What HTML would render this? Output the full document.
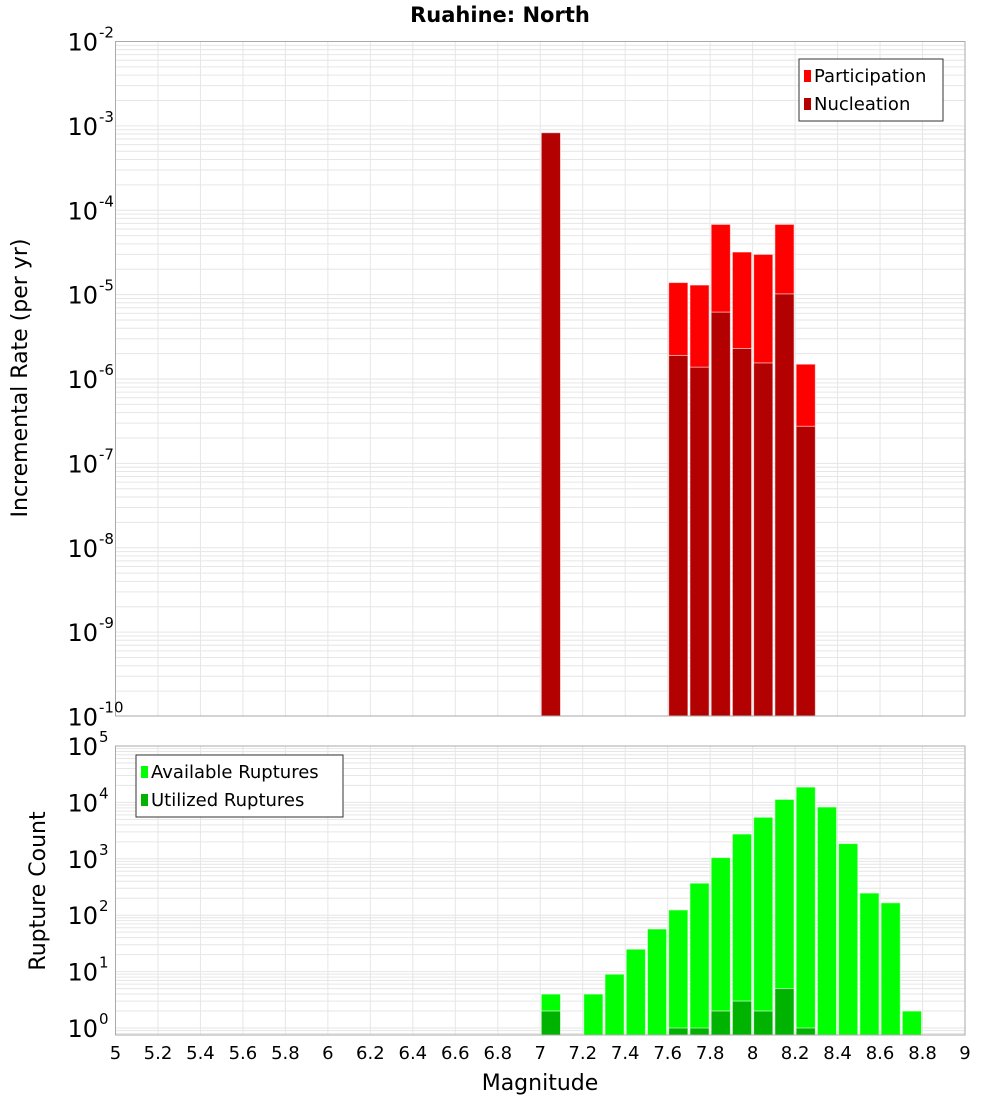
<!DOCTYPE html>
<html><head><meta charset="utf-8"><style>
body{margin:0;background:#fff;}
svg{display:block;font-family:"DejaVu Sans","Liberation Sans",sans-serif;}
</style></head><body>
<svg id="chart" width="1000" height="1100" xmlns="http://www.w3.org/2000/svg">
<text x="500" y="22" text-anchor="middle" font-size="21" font-weight="bold">Ruahine: North</text>
<text transform="translate(27,378) rotate(-90)" text-anchor="middle" font-size="22">Incremental Rate (per yr)</text>
<text transform="translate(45,891) rotate(-90)" text-anchor="middle" font-size="22">Rupture Count</text>
<text x="540" y="1090" text-anchor="middle" font-size="22">Magnitude</text>
</svg>
<script>
const mags = [7.0,7.6,7.7,7.8,7.9,8.0,8.1,8.2];
const participation = [8.3e-4,1.39e-5,1.3e-5,6.8e-5,3.2e-5,3.0e-5,6.8e-5,1.5e-6];
const nucleation = [8.3e-4,1.9e-6,1.38e-6,6.2e-6,2.3e-6,1.55e-6,1.02e-5,2.75e-7];
const ruptMags = [7.0,7.2,7.3,7.4,7.5,7.6,7.7,7.8,7.9,8.0,8.1,8.2,8.3,8.4,8.5,8.6,8.7];
const available = [4,4,9,25,57,124,370,1050,2750,5450,11300,18700,8300,1860,247,166,2];
const utilMags = [7.0,7.6,7.7,7.8,7.9,8.0,8.1,8.2];
const utilized = [2,1,1,2,3,2,5,1];
const xTicks = [5,5.2,5.4,5.6,5.8,6,6.2,6.4,6.6,6.8,7,7.2,7.4,7.6,7.8,8,8.2,8.4,8.6,8.8,9];
const topExps = [-2,-3,-4,-5,-6,-7,-8,-9,-10];
const botExps = [5,4,3,2,1,0];

const svg = document.getElementById('chart');
const NS = 'http://www.w3.org/2000/svg';
const L = 115.5, R = 965;
const xs = m => L + (m - 5) / 4 * (R - L);
const topY = v => 41.5 + (-2 - Math.log10(v)) * 84.375;
const botY = v => 1028 - Math.log10(v) * 56.4;
function mk(tag, attrs, parent){const e=document.createElementNS(NS,tag);for(const k in attrs)e.setAttribute(k,attrs[k]);(parent||svg).appendChild(e);return e;}

function panel(name, y0, y1, yfn, expLo, expHi){
  const g = mk('g',{});
  
  
  mk('rect',{x:L,y:y0,width:R-L,height:y1-y0,fill:'#fff'},g);
  for(let e=expLo;e<expHi;e++){for(let k=1;k<10;k++){const y=yfn(k*Math.pow(10,e));if(y<y0||y>y1)continue;
    mk('line',{x1:L,x2:R,y1:y,y2:y,stroke:'#e6e6e6','stroke-width':1},g);}}
  for(const t of xTicks){const x=xs(t);mk('line',{x1:x,x2:x,y1:y0,y2:y1,stroke:'#e6e6e6','stroke-width':1},g);}
  return g;
}
const gt = panel('top-plot',41.5,716,topY,-10,-2);
const gb = panel('bottom-plot',746,1035,botY,-1,5);

function bar(g, m, v, yfn, base, color, nm){
  const x = xs(m), w = xs(m+0.1)-x, y = yfn(v);
  const r = mk('rect',{x:x+1,y:y,width:w-2,height:base-y,fill:color,stroke:'rgba(255,255,255,0.6)','stroke-width':1},g);
  
  
}
mags.forEach((m,i)=>bar(gt,m,participation[i],topY,716,'#ff0000','participation-bar'));
mags.forEach((m,i)=>bar(gt,m,nucleation[i],topY,716,'#b30000','nucleation-bar'));
ruptMags.forEach((m,i)=>bar(gb,m,available[i],botY,1035,'#00ff00','available-bar'));
utilMags.forEach((m,i)=>bar(gb,m,utilized[i],botY,1035,'#00b300','utilized-bar'));

mk('rect',{x:L,y:41.5,width:R-L,height:674.5,fill:'none',stroke:'#aaa'});
mk('rect',{x:L,y:746,width:R-L,height:289,fill:'none',stroke:'#aaa'});

function ylabel(y, exp, nm){
  const t = mk('text',{x:98,y:y+9,'text-anchor':'end','font-size':24});
  
  
  t.textContent='10';
  const s = mk('text',{x:99,y:y-4,'font-size':15});
  
  
  s.textContent=String(exp);
}
topExps.forEach(e=>ylabel(topY(Math.pow(10,e)),e,'top-y-tick-label'));
botExps.forEach(e=>ylabel(botY(Math.pow(10,e)),e,'bottom-y-tick-label'));
xTicks.forEach(t=>{const e=mk('text',{x:xs(t),y:1059,'text-anchor':'middle','font-size':18});
  
  
  e.textContent=String(Math.round(t*10)/10);});

function legend(x,y,w,items,nm){
  const g = mk('g',{});
  
  
  mk('rect',{x:x,y:y,width:w,height:items.length*28+6,fill:'#fff',stroke:'#333'},g);
  items.forEach((it,i)=>{
    mk('rect',{x:x+5,y:y+11+i*28,width:7,height:12,fill:it[1]},g);
    const t=mk('text',{x:x+15,y:y+23+i*28,'font-size':18},g);
    
    
    t.textContent=it[0];
  });
}
legend(799,59,144,[['Participation','#ff0000'],['Nucleation','#b30000']],'top-legend');
legend(136,755,207,[['Available Ruptures','#00ff00'],['Utilized Ruptures','#00b300']],'bottom-legend');
</script>
</body></html>
